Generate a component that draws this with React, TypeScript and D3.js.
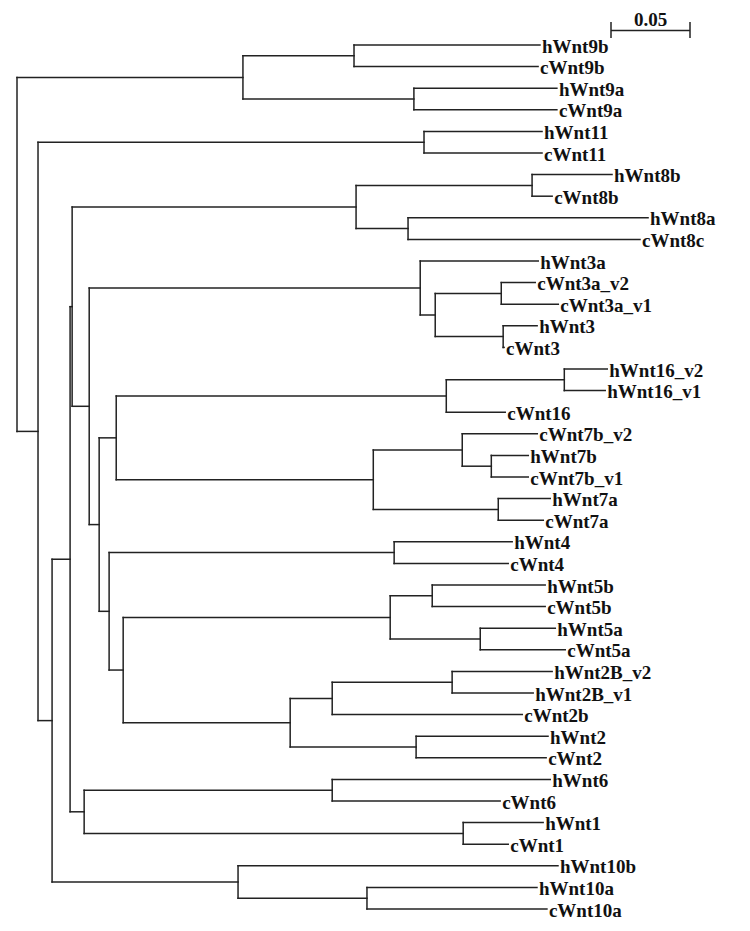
import React from "react";
import * as d3 from "d3";

// Leaves in top-to-bottom order: [label, parent clade, branch length]
const leaves: [string, string, number][] = [
  ["hWnt9b", "n9b", 0.1177],
  ["cWnt9b", "n9b", 0.1165],
  ["hWnt9a", "n9a", 0.0905],
  ["cWnt9a", "n9a", 0.0905],
  ["hWnt11", "n11", 0.0747],
  ["cWnt11", "n11", 0.0747],
  ["hWnt8b", "n8b", 0.0506],
  ["cWnt8b", "n8b", 0.0127],
  ["hWnt8a", "n8ac", 0.1519],
  ["cWnt8c", "n8ac", 0.1468],
  ["hWnt3a", "n3c", 0.0747],
  ["cWnt3a_v2", "n3av", 0.0215],
  ["cWnt3a_v1", "n3av", 0.0361],
  ["hWnt3", "n3", 0.0215],
  ["cWnt3", "n3", 0.0006],
  ["hWnt16_v2", "n16v", 0.0272],
  ["hWnt16_v1", "n16v", 0.0259],
  ["cWnt16", "n16", 0.0373],
  ["cWnt7b_v2", "n7b", 0.0475],
  ["hWnt7b", "n7bv", 0.0234],
  ["cWnt7b_v1", "n7bv", 0.0234],
  ["hWnt7a", "n7a", 0.0329],
  ["cWnt7a", "n7a", 0.0285],
  ["hWnt4", "n4", 0.0747],
  ["cWnt4", "n4", 0.0722],
  ["hWnt5b", "n5b", 0.0715],
  ["cWnt5b", "n5b", 0.0715],
  ["hWnt5a", "n5a", 0.0475],
  ["cWnt5a", "n5a", 0.0538],
  ["hWnt2B_v2", "n2Bv", 0.0633],
  ["hWnt2B_v1", "n2Bv", 0.0513],
  ["cWnt2b", "n2B", 0.1203],
  ["hWnt2", "n2a", 0.0835],
  ["cWnt2", "n2a", 0.0823],
  ["hWnt6", "n6", 0.138],
  ["cWnt6", "n6", 0.1063],
  ["hWnt1", "n1", 0.0506],
  ["cWnt1", "n1", 0.0285],
  ["hWnt10b", "n10", 0.2025],
  ["hWnt10a", "n10a", 0.1076],
  ["cWnt10a", "n10a", 0.1139],
];

// Internal clades: [id, parent, branch length]
const clades: [string, string, number][] = [
  ["root", "", 0],
  ["n9", "root", 0.143],
  ["n9b", "n9", 0.0703],
  ["n9a", "n9", 0.1082],
  ["nB", "root", 0.0133],
  ["n11", "nB", 0.2443],
  ["nC", "nB", 0.0089],
  ["nD", "nC", 0.0114],
  ["nE", "nD", 0.0013],
  ["n8", "nE", 0.1797],
  ["n8b", "n8", 0.1114],
  ["n8ac", "n8", 0.0329],
  ["nF", "nE", 0.0108],
  ["n3c", "nF", 0.2095],
  ["nG", "n3c", 0.0095],
  ["n3av", "nG", 0.0418],
  ["n3", "nG", 0.043],
  ["nH", "nF", 0.0063],
  ["nI", "nH", 0.0108],
  ["n16", "nI", 0.2089],
  ["n16v", "n16", 0.0747],
  ["n7", "nI", 0.1627],
  ["n7b", "n7", 0.0563],
  ["n7bv", "n7b", 0.0184],
  ["n7a", "n7", 0.0791],
  ["nK", "nH", 0.0063],
  ["n4", "nK", 0.1804],
  ["nL", "nK", 0.0089],
  ["n5", "nL", 0.169],
  ["n5b", "n5", 0.0266],
  ["n5a", "n5", 0.057],
  ["n2", "nL", 0.1057],
  ["n2B", "n2", 0.0266],
  ["n2Bv", "n2B", 0.0759],
  ["n2a", "n2", 0.0797],
  ["n61", "nD", 0.0089],
  ["n6", "n61", 0.157],
  ["n1", "n61", 0.2399],
  ["n10", "nC", 0.1177],
  ["n10a", "n10", 0.0816],
];

const scaleBarValue = 0.05;
const scaleBarLabel = "0.05";

const W = 750;
const H = 931;
const FONT = "'Liberation Serif', 'Times New Roman', serif";
const STROKE = "#222";

type Row = { id: string; parent: string; len: number; leaf: boolean };

export default function App() {
  const rows: Row[] = [
    ...clades.map(([id, parent, len]) => ({ id, parent, len, leaf: false })),
    ...leaves.map(([id, parent, len]) => ({ id, parent, len, leaf: true })),
  ];
  const root = d3
    .stratify<Row>()
    .id((d) => d.id)
    .parentId((d) => (d.parent === "" ? null : d.parent))(rows);

  const dist = new Map<string, number>();
  root.eachBefore((n: any) => {
    const p = n.parent ? dist.get(n.parent.id)! : 0;
    dist.set(n.id, p + n.data.len);
  });

  const x = d3.scaleLinear().domain([0, 0.05]).range([17, 96]);
  const yLeaf = d3
    .scalePoint<string>()
    .domain(leaves.map((l) => l[0]))
    .range([45, 909]);

  const yPos = new Map<string, number>();
  root.eachAfter((n: any) => {
    if (!n.children) yPos.set(n.id, yLeaf(n.id)!);
    else {
      const ys = n.children.map((c: any) => yPos.get(c.id)!);
      yPos.set(n.id, (d3.min(ys)! + d3.max(ys)!) / 2);
    }
  });

  const hLines: any[] = [];
  const vLines: any[] = [];
  const labels: any[] = [];
  root.each((n: any) => {
    const nx = x(dist.get(n.id)!);
    const ny = yPos.get(n.id)!;
    if (n.parent) {
      const px = x(dist.get(n.parent.id)!);
      hLines.push({ x1: px, x2: nx, y: ny, key: n.id });
    }
    if (n.children) {
      const ys = n.children.map((c: any) => yPos.get(c.id)!);
      vLines.push({ x: nx, y1: d3.min(ys), y2: d3.max(ys), key: n.id });
    } else {
      labels.push({ x: nx, y: ny, text: n.id });
    }
  });

  const barX = 611;
  const barW = x(scaleBarValue) - x(0);

  return (
    <svg
      width={W}
      height={H}
      style={{ position: "absolute", left: 0, top: 0, background: "#fff" }}
    >
      <rect width={W} height={H} fill="#fff" />
      <g stroke={STROKE} strokeWidth={1.5} fill="none" strokeLinecap="square">
        {hLines.map((l) => (
          <line key={"h" + l.key} x1={l.x1} x2={l.x2} y1={l.y} y2={l.y} />
        ))}
        {vLines.map((l) => (
          <line key={"v" + l.key} x1={l.x} x2={l.x} y1={l.y1} y2={l.y2} />
        ))}
      </g>
      <g fontFamily={FONT} fontWeight="bold" fontSize={19} fill="#111">
        {labels.map((l) => (
          <text key={"t" + l.text} x={l.x + 2} y={l.y + 7.5}>
            {l.text}
          </text>
        ))}
      </g>
      <g stroke={STROKE} strokeWidth={1.5}>
        <line x1={barX} x2={barX + barW} y1={30.5} y2={30.5} />
        <line x1={barX} x2={barX} y1={22} y2={38} />
        <line x1={barX + barW} x2={barX + barW} y1={22} y2={38} />
      </g>
      <text
        x={barX + barW / 2}
        y={25.5}
        textAnchor="middle"
        fontFamily={FONT}
        fontWeight="bold"
        fontSize={19}
        fill="#111"
      >
        {scaleBarLabel}
      </text>
    </svg>
  );
}
